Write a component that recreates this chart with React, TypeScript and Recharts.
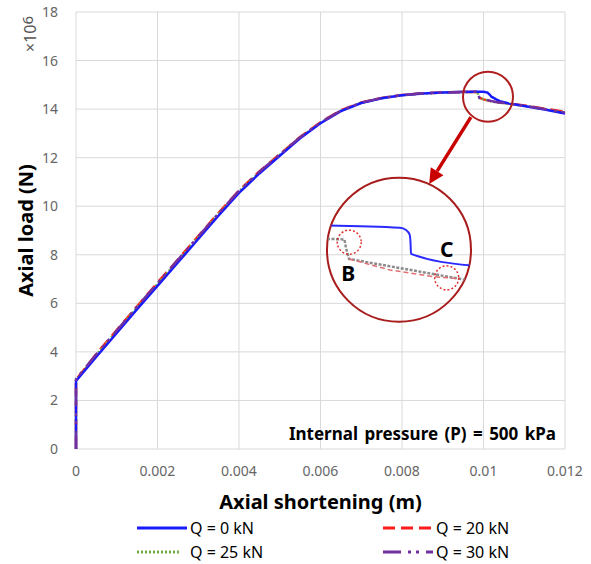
import React from 'react';
import { LineChart, Line, XAxis, YAxis, CartesianGrid, ReferenceDot, ReferenceLine } from 'recharts';

// ---- main data ----
const xShortening = [0, 0, 0.0005, 0.001, 0.0015, 0.002, 0.0025, 0.003, 0.0035, 0.004, 0.0045, 0.005, 0.0055, 0.006, 0.0065, 0.007, 0.0075, 0.008, 0.0085, 0.009, 0.0095, 0.0098, 0.00985, 0.0099, 0.01, 0.0101, 0.01015, 0.0102, 0.01025, 0.0103, 0.0104, 0.0106, 0.011, 0.0115, 0.012];
const loadQ0 = [0, 2.8, 3.8, 4.78, 5.76, 6.72, 7.68, 8.65, 9.62, 10.55, 11.35, 12.08, 12.8, 13.42, 13.92, 14.25, 14.45, 14.57, 14.64, 14.68, 14.7, 14.71, 14.71, 14.71, 14.71, 14.68, 14.6, 14.5, 14.46, 14.41, 14.33, 14.24, 14.13, 13.98, 13.82];
const loadQ20 = [0, 2.85, 3.92, 4.9, 5.88, 6.85, 7.8, 8.77, 9.73, 10.65, 11.43, 12.14, 12.85, 13.46, 13.95, 14.27, 14.46, 14.58, 14.65, 14.69, 14.7, 14.71, 14.7, 14.47, 14.4, 14.36, 14.34, 14.32, 14.3, 14.29, 14.27, 14.24, 14.15, 14.02, 13.88];
const loadQ25 = [0, 2.82, 3.88, 4.86, 5.84, 6.8, 7.76, 8.72, 9.69, 10.61, 11.4, 12.11, 12.83, 13.44, 13.93, 14.26, 14.45, 14.57, 14.64, 14.68, 14.7, 14.7, 14.7, 14.46, 14.4, 14.36, 14.34, 14.32, 14.3, 14.28, 14.26, 14.23, 14.13, 13.99, 13.85];
const loadQ30 = [0, 2.88, 3.9, 4.88, 5.86, 6.83, 7.79, 8.75, 9.71, 10.63, 11.42, 12.13, 12.84, 13.45, 13.94, 14.27, 14.46, 14.58, 14.65, 14.69, 14.71, 14.71, 14.71, 14.46, 14.41, 14.37, 14.35, 14.33, 14.31, 14.29, 14.27, 14.24, 14.14, 14.0, 13.86];

const xTicks = [0, 0.002, 0.004, 0.006, 0.008, 0.01, 0.012];
const yTicks = [0, 2, 4, 6, 8, 10, 12, 14, 16, 18];

// ---- inset (magnified) data ----
const insetBlueX = [0.0097, 0.010156, 0.010194, 0.010216, 0.010222, 0.010225, 0.0106];
const insetBlueY = [14.703, 14.689, 14.675, 14.647, 14.597, 14.526, 14.453];
const insetGrayX = [0.0097, 0.009809, 0.009819, 0.009838, 0.01053, 0.0106];
const insetGrayY = [14.62, 14.616, 14.56, 14.494, 14.37, 14.356];
const insetRedX = [0.009838, 0.010094, 0.010363, 0.01053];
const insetRedY = [14.494, 14.425, 14.384, 14.37];

const mainData = xShortening.map((x, i) => ({ x, q0: loadQ0[i], q20: loadQ20[i], q25: loadQ25[i], q30: loadQ30[i] }));
const toPts = (xs: number[], ys: number[]) => xs.map((x, i) => ({ x, y: ys[i] }));
const insetBlue = toPts(insetBlueX, insetBlueY);
const insetGray = toPts(insetGrayX, insetGrayY);
const insetRed = toPts(insetRedX, insetRedY);

const FONT = '"Noto Sans", "Open Sans", sans-serif';

const series = [
  { key: 'q0', name: 'Q = 0 kN', color: '#1a1aff', dash: undefined as string | undefined },
  { key: 'q20', name: 'Q = 20 kN', color: '#ff1a1a', dash: '12 6' },
  { key: 'q25', name: 'Q = 25 kN', color: '#70ad47', dash: '2 2' },
  { key: 'q30', name: 'Q = 30 kN', color: '#7030a0', dash: '18 7 3 5 3 7' },
];
const drawOrder = ['q20', 'q25', 'q0', 'q30'];

const xFmt = (v: number) => String(v);

const Arrow = (props: any) => {
  const { x1, y1, x2, y2 } = props;
  const dx = x2 - x1, dy = y2 - y1;
  const len = Math.sqrt(dx * dx + dy * dy);
  const ux = dx / len, uy = dy / len;
  const head = 15, half = 7.5;
  const bx = x2 - ux * head, by = y2 - uy * head;
  const px = -uy * half, py = ux * half;
  return (
    <g>
      <line x1={x1} y1={y1} x2={bx} y2={by} stroke="#c80000" strokeWidth={3.5} />
      <polygon points={`${x2},${y2} ${bx + px},${by + py} ${bx - px},${by - py}`} fill="#c80000" />
    </g>
  );
};

const YTitle = (props: any) => {
  const vb = props.viewBox || { x: 0, y: 12, width: 76, height: 437 };
  const cx = vb.x + 25;
  const cy = vb.y + vb.height / 2;
  return (
    <g>
      <text x={cx} y={cy} transform={`rotate(-90, ${cx}, ${cy})`} textAnchor="middle" dominantBaseline="central"
        fontFamily={FONT} fontWeight={700} fontSize={20} fill="#000">Axial load (N)</text>
      <text x={30} y={34} transform="rotate(-90, 30, 34)" textAnchor="middle" dominantBaseline="central"
        fontFamily={FONT} fontSize={16} fill="#555">×10<tspan dy={-3} fontSize={15}>6</tspan></text>
    </g>
  );
};

const XTitle = (props: any) => {
  const vb = props.viewBox || { x: 76, y: 449, width: 489, height: 30 };
  return (
    <g>
      <text x={vb.x + vb.width / 2} y={501} textAnchor="middle" dominantBaseline="central"
        fontFamily={FONT} fontWeight={700} fontSize={20} fill="#000">Axial shortening (m)</text>
      <text x={vb.x + vb.width - 9} y={vb.y - 16} textAnchor="end" dominantBaseline="central"
        fontFamily={FONT} fontWeight={700} fontSize={17} wordSpacing={2} fill="#000">Internal pressure (P) = 500 kPa</text>
    </g>
  );
};

const LegendSample = ({ color, dash, width }: { color: string; dash?: string; width: number }) => (
  <svg width={50} height={10} style={{ display: 'block' }}>
    <line x1={0} y1={5} x2={width} y2={5} stroke={color} strokeWidth={3} strokeDasharray={dash} />
  </svg>
);

export default function App() {
  const legendPos = [
    { s: series[0], left: 137, top: 516 },
    { s: series[1], left: 383, top: 516 },
    { s: series[2], left: 137, top: 540 },
    { s: series[3], left: 383, top: 540 },
  ];
  return (
    <div style={{ position: 'absolute', left: 0, top: 0, width: 591, height: 564, background: '#fff', fontFamily: FONT }}>
      <LineChart width={591} height={564} data={mainData} margin={{ top: 12, right: 26, bottom: 85, left: 0 }}>
        <CartesianGrid stroke="#d9d9d9" strokeWidth={1} />
        <XAxis dataKey="x" type="number" domain={[0, 0.012]} ticks={xTicks} tickFormatter={xFmt}
          axisLine={false} tickLine={false} tickSize={0} tickMargin={17} height={30} interval={0}
          tick={{ fontSize: 14, fill: '#666', fontFamily: FONT }} label={<XTitle />} />
        <YAxis type="number" domain={[0, 18]} ticks={yTicks} width={76} axisLine={false} tickLine={false}
          tickSize={0} tickMargin={18} interval={0}
          tick={{ fontSize: 14, fill: '#666', fontFamily: FONT }} label={<YTitle />} />
        {drawOrder.map((k) => {
          const s = series.find((t) => t.key === k)!;
          return (
            <Line key={k} dataKey={k} name={s.name} type="linear" stroke={s.color} strokeWidth={2.5}
              strokeDasharray={s.dash} dot={false} activeDot={false} isAnimationActive={false} />
          );
        })}
        <ReferenceDot x={0.01011} y={14.51} r={25} fill="none" stroke="#b01e1e" strokeWidth={2} />
        <ReferenceDot x={0.007926} y={8.21} r={72} fill="none" stroke="#a81c1c" strokeWidth={2} />
        <ReferenceLine segment={[{ x: 0.00969, y: 13.67 }, { x: 0.008667, y: 10.92 }]} shape={<Arrow />} />
      </LineChart>

      <div style={{ position: 'absolute', left: 327, top: 178, width: 144, height: 144, clipPath: 'circle(50%)' }}>
        <LineChart width={144} height={144} margin={{ top: 0, right: 0, bottom: 0, left: 0 }}>
          <XAxis dataKey="x" type="number" domain={[0.0097, 0.0106]} hide />
          <YAxis type="number" domain={[14.1, 15.0]} hide />
          <Line data={insetGray} dataKey="y" type="linear" stroke="#8c8c8c" strokeWidth={2.5} strokeDasharray="3 1.5"
            dot={false} activeDot={false} isAnimationActive={false} />
          <Line data={insetRed} dataKey="y" type="linear" stroke="#e07070" strokeWidth={1.5} strokeDasharray="5 3"
            dot={false} activeDot={false} isAnimationActive={false} />
          <Line data={insetBlue} dataKey="y" type="monotone" stroke="#2a2aff" strokeWidth={2}
            dot={false} activeDot={false} isAnimationActive={false} />
          <ReferenceDot x={0.009839} y={14.599} r={12} fill="none" stroke="#e03030" strokeWidth={1.5} strokeDasharray="2 2" />
          <ReferenceDot x={0.010448} y={14.376} r={12} fill="none" stroke="#e03030" strokeWidth={1.5} strokeDasharray="2 2" />
          <ReferenceDot x={0.009833} y={14.40} r={1} fill="none" stroke="none"
            label={{ value: 'B', position: 'center', fontSize: 21, fontWeight: 700, fill: '#000', fontFamily: FONT }} />
          <ReferenceDot x={0.010448} y={14.551} r={1} fill="none" stroke="none"
            label={{ value: 'C', position: 'center', fontSize: 21, fontWeight: 700, fill: '#000', fontFamily: FONT }} />
        </LineChart>
      </div>

      {legendPos.map(({ s, left, top }) => (
        <div key={s.key} style={{ position: 'absolute', left, top, height: 24, display: 'flex', alignItems: 'center' }}>
          <LegendSample color={s.color} dash={s.dash} width={s.key === 'q25' ? 44 : 50} />
          <span style={{ marginLeft: 3, fontSize: 16, color: '#000', whiteSpace: 'nowrap', fontFamily: FONT }}>{s.name}</span>
        </div>
      ))}
    </div>
  );
}
